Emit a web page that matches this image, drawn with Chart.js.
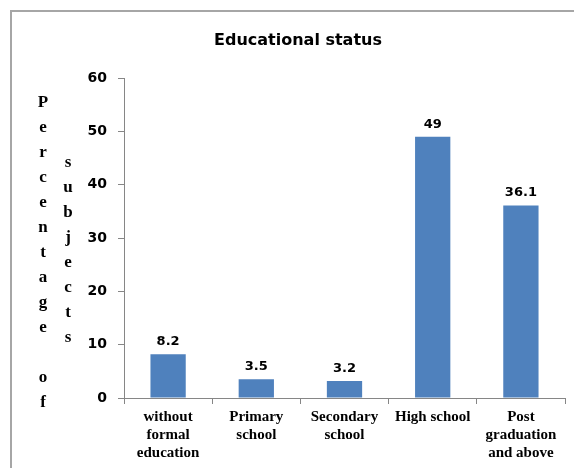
<!DOCTYPE html>
<html>
<head>
<meta charset="utf-8">
<script src="https://cdn.jsdelivr.net/npm/chart.js@4"></script>
<style>
  html, body { margin: 0; padding: 0; background: #fff; }
  #wrap { position: relative; width: 574px; height: 468px; }
</style>
</head>
<body>
<div id="wrap"><canvas id="c" width="574" height="468"></canvas></div>
<script>
const categories = [
  ["without", "formal", "education"],
  ["Primary", "school"],
  ["Secondary", "school"],
  ["High school"],
  ["Post", "graduation", "and above"]
];
const values = [8.2, 3.5, 3.2, 49, 36.1];
const yMin = 0;
const yMax = 60;
const yStep = 10;
const chartTitle = "Educational status";
const yTitleColumns = ["Percentage of", "subjects"];

const framePlugin = {
  id: 'frame',
  beforeDraw(chart) {
    const ctx = chart.ctx;
    ctx.save();
    ctx.fillStyle = '#ffffff';
    ctx.fillRect(0, 0, chart.width, chart.height);
    ctx.strokeStyle = '#a6a6a6';
    ctx.lineWidth = 2;
    ctx.strokeRect(11, 11, 800, 800);
    ctx.restore();
  }
};

const yTitlePlugin = {
  id: 'yTitleStacked',
  afterDraw(chart) {
    const ctx = chart.ctx;
    ctx.save();
    ctx.font = 'bold 17px "Liberation Serif"';
    ctx.fillStyle = '#000';
    ctx.textAlign = 'center';
    ctx.textBaseline = 'middle';
    const colX = [43, 68];
    const colY = [103, 163];
    const step = 25;
    yTitleColumns.forEach((txt, ci) => {
      for (let i = 0; i < txt.length; i++) {
        const ch = txt[i];
        if (ch !== ' ') ctx.fillText(ch, colX[ci], colY[ci] + i * step);
      }
    });
    ctx.restore();
  }
};

const dataLabelPlugin = {
  id: 'valueLabels',
  afterDatasetsDraw(chart) {
    const ctx = chart.ctx;
    const meta = chart.getDatasetMeta(0);
    ctx.save();
    ctx.font = 'bold 13px "DejaVu Sans"';
    ctx.fillStyle = '#000';
    ctx.textAlign = 'center';
    ctx.textBaseline = 'bottom';
    meta.data.forEach((bar, i) => {
      ctx.fillText(String(values[i]), bar.x, bar.y - 6);
    });
    ctx.restore();
  }
};

new Chart(document.getElementById('c'), {
  type: 'bar',
  data: {
    labels: categories,
    datasets: [{
      data: values,
      backgroundColor: '#4F81BD',
      borderWidth: 0,
      barPercentage: 0.4,
      categoryPercentage: 1.0
    }]
  },
  options: {
    responsive: false,
    animation: false,
    devicePixelRatio: 1,
    layout: { padding: { left: 31, right: 9, top: 31, bottom: 0 } },
    plugins: {
      legend: { display: false },
      tooltip: { enabled: false },
      title: {
        display: true,
        text: chartTitle,
        color: '#000',
        font: { family: '"DejaVu Sans"', size: 16, weight: 'bold', lineHeight: 1.2 },
        padding: { top: 0, bottom: 28 }
      }
    },
    scales: {
      x: {
        grid: {
          display: true,
          drawOnChartArea: false,
          drawTicks: true,
          tickLength: 6,
          offset: true,
          color: '#868686'
        },
        border: { display: true, color: '#868686', width: 1 },
        ticks: {
          color: '#000',
          font: { family: '"Liberation Serif"', size: 15, weight: 'bold', lineHeight: '18px' },
          padding: 4,
          maxRotation: 0,
          minRotation: 0,
          autoSkip: false
        },
        afterFit(scale) { scale.height = 70; }
      },
      y: {
        min: yMin,
        max: yMax,
        grid: {
          display: true,
          drawOnChartArea: false,
          drawTicks: true,
          tickLength: 6,
          color: '#868686'
        },
        border: { display: true, color: '#868686', width: 1 },
        ticks: {
          stepSize: yStep,
          color: '#000',
          font: { family: '"DejaVu Sans"', size: 14, weight: 'bold' },
          padding: 11
        },
        afterFit(scale) { scale.width = 93; }
      }
    }
  },
  plugins: [framePlugin, yTitlePlugin, dataLabelPlugin]
});
</script>
</body>
</html>
